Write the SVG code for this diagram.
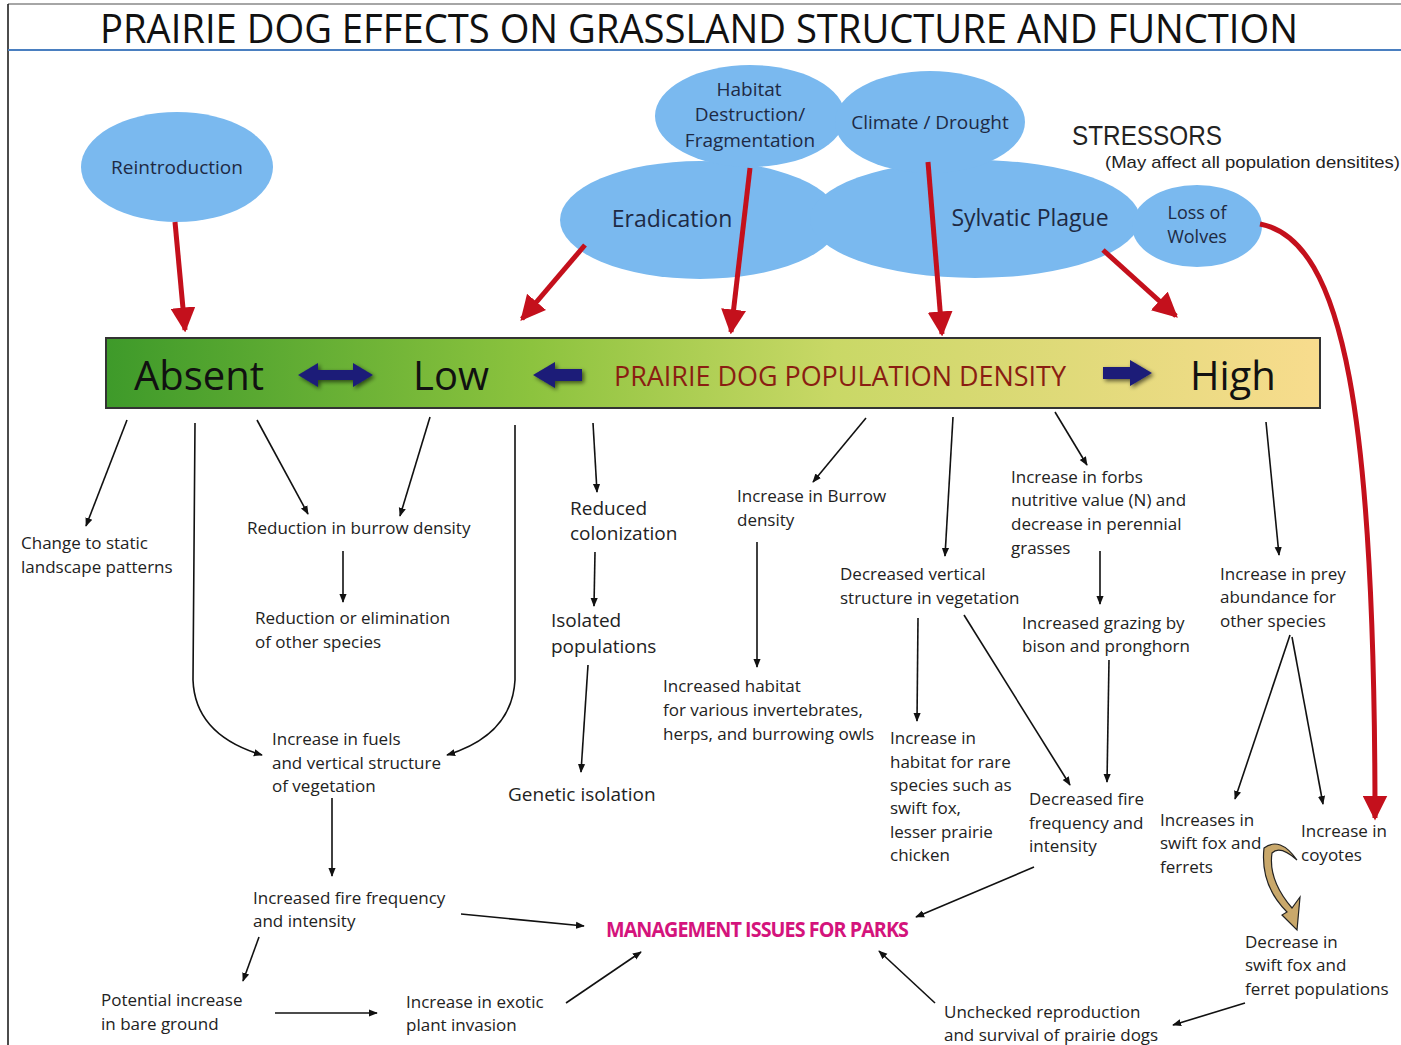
<svg xmlns="http://www.w3.org/2000/svg" width="1401" height="1045" viewBox="0 0 1401 1045">
<defs>
<style>
text{font-family:"Open Sans","Liberation Sans",sans-serif;fill:#222;}
.t{font-size:17px;}
.t2{font-size:19px;}
.oval{fill:#7ab9ef;}
.ov{font-size:19px;text-anchor:middle;fill:#1e2a44;}
.ov2{font-size:23px;text-anchor:middle;fill:#1e2a44;}
.bk{fill:none;stroke:#111;stroke-width:1.6;marker-end:url(#ah);}
.rd{fill:none;stroke:#c4101c;stroke-width:5;marker-end:url(#rh);}
.big{font-size:40px;fill:#111;}
.nav{fill:#1c1c78;}
</style>
<marker id="ah" viewBox="0 0 10 10" refX="9" refY="5" markerWidth="9" markerHeight="9" markerUnits="userSpaceOnUse" orient="auto"><path d="M0,1 L10,5 L0,9 z" fill="#111"/></marker>
<marker id="rh" viewBox="0 0 10 10" refX="9" refY="5" markerWidth="5" markerHeight="5" orient="auto"><path d="M0,0 L10,5 L0,10 z" fill="#c4101c"/></marker>
<linearGradient id="bar" x1="0" x2="1" y1="0" y2="0">
<stop offset="0" stop-color="#3e9a2a"/>
<stop offset="0.35" stop-color="#8cc33e"/>
<stop offset="0.6" stop-color="#c9d866"/>
<stop offset="1" stop-color="#f8dc8e"/>
</linearGradient>
<filter id="sh" x="-20%" y="-30%" width="140%" height="160%"><feGaussianBlur in="SourceAlpha" stdDeviation="2"/><feOffset dx="2" dy="2"/><feComponentTransfer><feFuncA type="linear" slope="0.6"/></feComponentTransfer><feMerge><feMergeNode/><feMergeNode in="SourceGraphic"/></feMerge></filter>
</defs>
<rect width="1401" height="1045" fill="#fff"/>
<line x1="8" y1="4" x2="1401" y2="4" stroke="#888" stroke-width="1.5"/>
<line x1="8" y1="4" x2="8" y2="1045" stroke="#111" stroke-width="1.5"/>
<line x1="8" y1="50" x2="1401" y2="50" stroke="#4a7fc0" stroke-width="2"/>
<text x="100" y="43" font-size="40" textLength="1198" lengthAdjust="spacingAndGlyphs" style="fill:#111">PRAIRIE DOG EFFECTS ON GRASSLAND STRUCTURE AND FUNCTION</text>

<g id="stressors">
<g id="n-reintro"><ellipse class="oval" cx="177" cy="167" rx="96" ry="55"/><text class="ov" x="177" y="174">Reintroduction</text></g>
<g id="n-erad"><ellipse class="oval" cx="700" cy="220" rx="140" ry="59"/></g>
<g id="n-plague"><ellipse class="oval" cx="975" cy="219" rx="165" ry="59"/></g>
<g id="n-habitat"><ellipse class="oval" cx="750" cy="116" rx="95" ry="51"/><text class="ov" x="749" y="96">Habitat</text><text class="ov" x="750" y="121">Destruction/</text><text class="ov" x="750" y="147">Fragmentation</text></g>
<g id="n-climate"><ellipse class="oval" cx="930" cy="122" rx="95" ry="51"/><text class="ov" x="930" y="129">Climate / Drought</text></g>
<text class="ov2" x="672" y="227">Eradication</text>
<text class="ov2" x="1030" y="226">Sylvatic Plague</text>
<g id="n-wolves"><ellipse class="oval" cx="1197" cy="226" rx="65" ry="41"/><text class="ov" x="1197" y="219" style="font-size:18px">Loss of</text><text class="ov" x="1197" y="243" style="font-size:18px">Wolves</text></g>
<text x="1072" y="145" font-size="28" textLength="150" lengthAdjust="spacingAndGlyphs" style="font-family:'Liberation Sans',sans-serif">STRESSORS</text>
<text x="1105" y="168" font-size="17" textLength="295" lengthAdjust="spacingAndGlyphs" style="font-family:'Liberation Sans',sans-serif">(May affect all population densitites)</text>
</g>

<g id="bar-node">
<rect x="106" y="338" width="1214" height="70" fill="url(#bar)" stroke="#333" stroke-width="2"/>
<text class="big" x="134" y="390">Absent</text>
<text class="big" x="413" y="390">Low</text>
<text x="614" y="386" font-size="28" textLength="452" lengthAdjust="spacingAndGlyphs" style="fill:#8a1e12">PRAIRIE DOG POPULATION DENSITY</text>
<text class="big" x="1190" y="390">High</text>
<g filter="url(#sh)">
<path class="nav" d="M298,375 L318,363 L318,370 L353,370 L353,363 L373,375 L353,387 L353,380 L318,380 L318,387 z"/>
<path class="nav" d="M533,375 L555,362 L555,369 L582,369 L582,381 L555,381 L555,388 z"/>
<path class="nav" d="M1152,373 L1130,360 L1130,367 L1103,367 L1103,379 L1130,379 L1130,386 z"/>
</g>
</g>

<g id="connectors">
<path class="rd" d="M175,222 L185,330"/>
<path class="rd" d="M585,245 L522,319"/>
<path class="rd" d="M750,168 L731,332"/>
<path class="rd" d="M928,162 L942,334"/>
<path class="rd" d="M1103,250 L1176,316"/>
<path class="rd" d="M1260,224 C1345,240 1375,420 1375,818"/>

<path class="bk" d="M127,420 L86,526"/>
<path class="bk" d="M257,420 L308,514"/>
<path class="bk" d="M430,417 L400,516"/>
<path class="bk" d="M343,551 L343,602"/>
<path class="bk" d="M195,423 L193,680 Q195,735 262,755"/>
<path class="bk" d="M515,425 L515,680 Q512,735 447,755"/>
<path class="bk" d="M332,798 L332,876"/>
<path class="bk" d="M593,423 L597,492"/>
<path class="bk" d="M595,552 L594,606"/>
<path class="bk" d="M588,665 L581,772"/>
<path class="bk" d="M866,418 L813,482"/>
<path class="bk" d="M757,542 L757,667"/>
<path class="bk" d="M953,417 L945,556"/>
<path class="bk" d="M1055,412 L1087,465"/>
<path class="bk" d="M1100,551 L1100,604"/>
<path class="bk" d="M918,618 L917,721"/>
<path class="bk" d="M964,615 L1070,785"/>
<path class="bk" d="M1109,660 L1107,782"/>
<path class="bk" d="M1266,422 L1279,555"/>
<path class="bk" d="M1290,635 L1235,799"/>
<path class="bk" d="M1292,637 L1323,804"/>
<path class="bk" d="M259,937 L243,981"/>
<path class="bk" d="M461,914 L584,926"/>
<path class="bk" d="M275,1013 L377,1013"/>
<path class="bk" d="M566,1003 L641,952"/>
<path class="bk" d="M1034,867 L916,917"/>
<path class="bk" d="M935,1003 L879,951"/>
<path class="bk" d="M1245,1003 L1173,1025"/>
<path d="M1264,848 Q1280,836 1297,860 Q1280,845 1272,853 Q1268,880 1292,908 L1300,897 L1297,930 L1282,915 L1287,912 Q1260,885 1264,848 z" fill="#c9a86b" stroke="#222" stroke-width="1.2"/>
</g>

<g id="effects">
<g id="e1"><text class="t" x="21" y="549">Change to static</text><text class="t" x="21" y="573">landscape patterns</text></g>
<g id="e2"><text class="t" x="247" y="534">Reduction in burrow density</text></g>
<g id="e3"><text class="t" x="255" y="624">Reduction or elimination</text><text class="t" x="255" y="648">of other species</text></g>
<g id="e4"><text class="t" x="272" y="745">Increase in fuels</text><text class="t" x="272" y="769">and vertical structure</text><text class="t" x="272" y="792">of vegetation</text></g>
<g id="e5"><text class="t" x="253" y="904">Increased fire frequency</text><text class="t" x="253" y="927">and intensity</text></g>
<g id="e6"><text class="t" x="101" y="1006">Potential increase</text><text class="t" x="101" y="1030">in bare ground</text></g>
<g id="e7"><text class="t" x="406" y="1008">Increase in exotic</text><text class="t" x="406" y="1031">plant invasion</text></g>
<g id="e8"><text class="t2" x="570" y="515">Reduced</text><text class="t2" x="570" y="540">colonization</text></g>
<g id="e9"><text class="t2" x="551" y="627">Isolated</text><text class="t2" x="551" y="653">populations</text></g>
<g id="e10"><text class="t2" x="508" y="801">Genetic isolation</text></g>
<g id="e11"><text class="t" x="737" y="502">Increase in Burrow</text><text class="t" x="737" y="526">density</text></g>
<g id="e12"><text class="t" x="663" y="692">Increased habitat</text><text class="t" x="663" y="716">for various invertebrates,</text><text class="t" x="663" y="740">herps, and burrowing owls</text></g>
<g id="e13"><text class="t" x="840" y="580">Decreased vertical</text><text class="t" x="840" y="604">structure in vegetation</text></g>
<g id="e14"><text class="t" x="1011" y="483">Increase in forbs</text><text class="t" x="1011" y="506">nutritive value (N) and</text><text class="t" x="1011" y="530">decrease in perennial</text><text class="t" x="1011" y="554">grasses</text></g>
<g id="e15"><text class="t" x="1022" y="629">Increased grazing by</text><text class="t" x="1022" y="652">bison and pronghorn</text></g>
<g id="e16"><text class="t" x="890" y="744">Increase in</text><text class="t" x="890" y="768">habitat for rare</text><text class="t" x="890" y="791">species such as</text><text class="t" x="890" y="814">swift fox,</text><text class="t" x="890" y="838">lesser prairie</text><text class="t" x="890" y="861">chicken</text></g>
<g id="e17"><text class="t" x="1029" y="805">Decreased fire</text><text class="t" x="1029" y="829">frequency and</text><text class="t" x="1029" y="852">intensity</text></g>
<g id="e18"><text class="t" x="1220" y="580">Increase in prey</text><text class="t" x="1220" y="603">abundance for</text><text class="t" x="1220" y="627">other species</text></g>
<g id="e19"><text class="t" x="1160" y="826">Increases in</text><text class="t" x="1160" y="849">swift fox and</text><text class="t" x="1160" y="873">ferrets</text></g>
<g id="e20"><text class="t" x="1301" y="837">Increase in</text><text class="t" x="1301" y="861">coyotes</text></g>
<g id="e21"><text class="t" x="1245" y="948">Decrease in</text><text class="t" x="1245" y="971">swift fox and</text><text class="t" x="1245" y="995">ferret populations</text></g>
<g id="e22"><text class="t" x="944" y="1018">Unchecked reproduction</text><text class="t" x="944" y="1041">and survival of prairie dogs</text></g>
<g id="mgmt"><text x="606" y="937" font-size="21" font-weight="bold" textLength="302" lengthAdjust="spacingAndGlyphs" style="fill:#d4147c;letter-spacing:-1px">MANAGEMENT ISSUES FOR PARKS</text></g>
</g>
</svg>
